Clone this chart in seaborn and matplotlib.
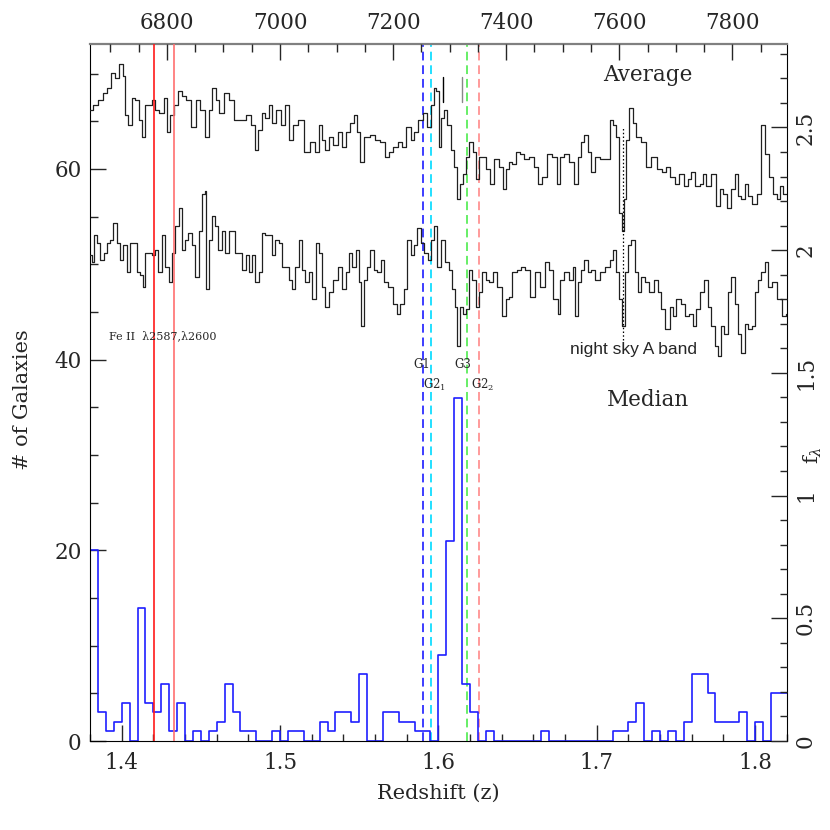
import numpy as np
import pandas as pd
import matplotlib
matplotlib.use("Agg")
import matplotlib.pyplot as plt
import seaborn as sns
from matplotlib.ticker import MultipleLocator

sns.set_style("ticks")
plt.rcParams["font.family"] = ["DejaVu Serif"]
plt.rcParams["mathtext.fontset"] = "dejavuserif"

# ---------------- data ----------------
z_start = 1.380
z_bin = 0.005
counts = [20, 3, 1, 2, 4, 0, 14, 4, 3, 6,
          1, 4, 0, 1, 0, 1, 2, 6, 3, 1,
          1, 0, 0, 1, 0, 1, 1, 0, 0, 2,
          1, 3, 3, 2, 7, 0, 0, 3, 3, 2,
          2, 1, 1, 0, 9, 21, 36, 6, 3, 0,
          1, 0, 0, 0, 0, 0, 0, 1, 0, 0,
          0, 0, 0, 0, 0, 0, 1, 1, 2, 4,
          0, 1, 0, 1, 0, 2, 7, 7, 5, 2,
          2, 2, 3, 0, 2, 0, 5, 5]

avg_wave = [6664, 6673, 6682, 6691, 6696, 6705, 6711, 6720, 6723, 6729, 6734, 6741, 6747, 6753, 6759, 6764,
            6770, 6776, 6782, 6791, 6797, 6803, 6809, 6815, 6823, 6829, 6838, 6847, 6856, 6862, 6871, 6877,
            6884, 6888, 6897, 6906, 6915, 6924, 6936, 6945, 6953, 6958, 6965, 6971, 6977, 6983, 6989, 6998,
            7004, 7013, 7018, 7027, 7036, 7048, 7057, 7066, 7072, 7077, 7083, 7089, 7098, 7107,
            7113, 7119, 7128, 7134, 7139, 7145, 7151, 7157, 7163, 7172, 7181, 7190, 7196, 7204, 7213, 7219,
            7228, 7234, 7240, 7249, 7255, 7264, 7269, 7274, 7278, 7283, 7287, 7293, 7299, 7305, 7311, 7315,
            7321, 7327, 7331, 7339, 7343, 7349, 7355, 7361, 7367, 7374, 7382, 7391, 7396, 7402, 7408, 7414,
            7420, 7429, 7435, 7444, 7453, 7461, 7467, 7476, 7485, 7494,
            7497, 7506, 7515, 7524, 7529, 7535, 7541, 7547, 7553, 7562, 7571, 7580, 7586, 7592, 7597, 7603,
            7606, 7609, 7615, 7621, 7627, 7633, 7642, 7651, 7662, 7671, 7680, 7686, 7695, 7701, 7710, 7719,
            7724, 7730, 7739, 7745, 7751, 7757, 7766, 7775, 7781, 7786, 7795, 7801, 7807, 7813, 7819, 7825,
            7831, 7840, 7848, 7854, 7860, 7869, 7875, 7881, 7887, 7893, 7902]
avg_flux = [2.57, 2.59, 2.61, 2.64, 2.66, 2.72, 2.70, 2.76, 2.71, 2.55, 2.51, 2.62, 2.61, 2.53, 2.46, 2.59,
            2.59, 2.61, 2.57, 2.56, 2.62, 2.48, 2.55, 2.59, 2.65, 2.63, 2.61, 2.50, 2.61, 2.57, 2.46, 2.57,
            2.66, 2.61, 2.56, 2.64, 2.61, 2.53, 2.53, 2.55, 2.51, 2.41, 2.49, 2.56, 2.54, 2.59, 2.52, 2.57,
            2.51, 2.59, 2.45, 2.51, 2.53, 2.40, 2.44, 2.40, 2.51, 2.45, 2.41, 2.46, 2.43, 2.48,
            2.42, 2.48, 2.52, 2.55, 2.48, 2.36, 2.46, 2.46, 2.47, 2.45, 2.44, 2.38, 2.40, 2.42, 2.44, 2.42,
            2.50, 2.45, 2.48, 2.53, 2.56, 2.50, 2.59, 2.66, 2.65, 2.42, 2.54, 2.57, 2.51, 2.41, 2.34, 2.21,
            2.27, 2.31, 2.38, 2.44, 2.40, 2.29, 2.38, 2.38, 2.33, 2.27, 2.37, 2.34, 2.25, 2.33, 2.36, 2.35,
            2.40, 2.39, 2.37, 2.38, 2.34, 2.27, 2.30, 2.39, 2.38, 2.27,
            2.38, 2.39, 2.36, 2.27, 2.38, 2.44, 2.47, 2.40, 2.32, 2.38, 2.37, 2.37, 2.53, 2.51, 2.46, 2.15,
            2.08, 2.21, 2.45, 2.58, 2.52, 2.46, 2.44, 2.34, 2.38, 2.33, 2.32, 2.34, 2.30, 2.27, 2.31, 2.26,
            2.29, 2.32, 2.26, 2.27, 2.31, 2.26, 2.31, 2.18, 2.25, 2.23, 2.17, 2.25, 2.31, 2.22, 2.21, 2.27,
            2.22, 2.19, 2.23, 2.51, 2.39, 2.30, 2.23, 2.21, 2.26, 2.23, 2.25]

med_wave = [6664, 6670, 6673, 6679, 6685, 6691, 6696, 6702, 6708, 6714, 6720, 6726, 6732, 6738, 6744, 6750,
            6756, 6760, 6764, 6770, 6776, 6782, 6788, 6794, 6800, 6806, 6812, 6818, 6823, 6829, 6835, 6841,
            6847, 6853, 6859, 6865, 6868, 6872, 6877, 6883, 6888, 6894, 6900, 6906, 6912, 6918, 6924, 6930,
            6936, 6942, 6948, 6953, 6959, 6965, 6971, 6977, 6983, 6989, 6995, 7001, 7007, 7013, 7018, 7024,
            7030, 7036, 7042, 7048, 7054, 7060, 7066, 7072, 7077, 7083, 7089, 7098, 7107,
            7113, 7119, 7125, 7131, 7137, 7142, 7145, 7151, 7157, 7163, 7169, 7175, 7181, 7187, 7196, 7204,
            7210, 7216, 7222, 7228, 7234, 7240, 7246, 7252, 7258, 7264, 7269, 7275, 7281, 7287, 7296, 7302,
            7308, 7311, 7315, 7320, 7326, 7331, 7337, 7343, 7349, 7355, 7361, 7367, 7373, 7379, 7388, 7396,
            7402, 7408, 7414, 7423, 7429, 7438, 7447, 7456, 7464, 7473, 7479, 7488, 7494,
            7497, 7506, 7515, 7521, 7524, 7529, 7535, 7541, 7547, 7553, 7562, 7571, 7580, 7586, 7592, 7597,
            7603, 7607, 7612, 7618, 7624, 7630, 7636, 7642, 7648, 7656, 7665, 7671, 7677, 7686, 7692, 7698,
            7704, 7713, 7719, 7727, 7733, 7739, 7745, 7754, 7760, 7766, 7772, 7778, 7783, 7789, 7795, 7801,
            7807, 7813, 7819, 7825, 7831, 7837, 7843, 7848, 7854, 7860, 7866, 7875, 7884, 7890, 7899]
med_flux = [1.98, 1.95, 2.06, 2.03, 1.96, 1.99, 2.03, 2.04, 2.11, 2.03, 1.96, 2.02, 1.91, 2.03, 2.03, 1.91,
            1.90, 1.85, 1.99, 1.99, 1.98, 2.00, 1.91, 2.06, 1.93, 1.87, 1.99, 2.10, 2.17, 2.00, 2.04, 2.07,
            2.02, 1.89, 2.08, 2.23, 2.24, 1.84, 2.04, 2.14, 2.10, 2.00, 2.08, 1.99, 2.08, 2.08, 1.99, 1.99,
            1.92, 1.98, 1.91, 1.98, 1.87, 1.91, 2.07, 2.06, 2.06, 1.98, 2.04, 2.03, 1.93, 1.93, 1.88, 1.84,
            1.93, 2.04, 1.92, 1.87, 1.91, 1.80, 2.03, 1.99, 1.85, 1.77, 1.83, 1.88, 1.93,
            1.84, 1.91, 1.99, 1.93, 2.00, 1.87, 1.69, 1.88, 1.93, 2.00, 1.92, 1.91, 1.96, 1.87, 1.85, 1.78,
            1.74, 1.78, 1.84, 2.04, 1.98, 2.02, 2.09, 2.03, 1.99, 1.96, 2.04, 2.10, 1.93, 2.04, 1.95, 1.92,
            1.84, 1.77, 1.61, 1.77, 1.74, 1.76, 1.92, 1.88, 1.77, 1.83, 1.91, 1.88, 1.87, 1.91, 1.85, 1.73,
            1.80, 1.81, 1.91, 1.92, 1.93, 1.92, 1.81, 1.91, 1.85, 1.95, 1.92, 1.80, 1.74,
            1.88, 1.91, 1.88, 1.93, 1.73, 1.87, 1.92, 1.96, 1.91, 1.92, 1.88, 1.91, 1.93, 1.96, 2.00, 1.91,
            1.80, 1.69, 1.91, 2.02, 2.04, 1.91, 1.83, 1.89, 1.87, 1.83, 1.88, 1.83, 1.76, 1.68, 1.77, 1.73,
            1.80, 1.78, 1.73, 1.74, 1.69, 1.76, 1.83, 1.88, 1.77, 1.69, 1.61, 1.57, 1.69, 1.66, 1.83, 1.89,
            1.78, 1.66, 1.58, 1.70, 1.68, 1.69, 1.83, 1.88, 1.91, 1.95, 1.85, 1.87, 1.80, 1.73, 1.74]

feii_wave = [6778, 6812]            # Fe II 2587, 2600 at z=1.62 (observed)
group_z = [1.5906, 1.5953, 1.6184, 1.6256]
group_colors = ["#3c3cff", "#22e0ff", "#66ee66", "#ff9a9a"]
aband_wave = 7607
mark_wave = [7288, 7321]

z_lim = (1.38, 1.82)
n_lim = (0, 73.1)
wave_lim = (2800 * (1 + z_lim[0]), 2800 * (1 + z_lim[1]))
f_lim = (0, 2.84)

# ---------------- figure ----------------
W = 830.0
fig = plt.figure(figsize=(8.3, 8.3), dpi=100)
rect = [90 / W, 89 / W, 696.7 / W, 697 / W]
ax = fig.add_axes(rect)
ax2 = fig.add_axes(rect, frameon=False)
ax2.patch.set_visible(False)

z_edges = z_start + z_bin * np.arange(len(counts) + 1)
hist_df = pd.DataFrame({"z": 0.5 * (z_edges[:-1] + z_edges[1:]), "n": counts})
sns.histplot(data=hist_df, x="z", weights="n", binwidth=z_bin,
             binrange=(z_start, z_start + z_bin * len(counts)),
             element="step", fill=False, color="#1f1fff", linewidth=1.2, ax=ax)

for zg, c in zip(group_z, group_colors):
    ax.axvline(zg, color=c, lw=1.4, dashes=(4.5, 2.5), zorder=1)

ax.set_xlim(*z_lim)
ax.set_ylim(*n_lim)
ax.set_xlabel("Redshift (z)", fontsize=15)
ax.set_ylabel("# of Galaxies", fontsize=15)
ax.xaxis.set_label_coords(0.5, -0.062)
ax.yaxis.set_label_coords(-0.083, 0.49)
ax.xaxis.set_major_locator(MultipleLocator(0.1))
ax.xaxis.set_minor_locator(MultipleLocator(0.02))
ax.set_yticks([0, 20, 40, 60])
ax.yaxis.set_minor_locator(MultipleLocator(5))
ax.tick_params(which="both", direction="in", top=False, right=False, labelsize=15.5, width=1)
ax.tick_params(which="major", length=11.5)
ax.tick_params(which="minor", length=5.4)
ax.tick_params(axis="x", pad=8)
ax.tick_params(axis="y", pad=6)
ax.spines["top"].set_color("#808080")
for s in ["left", "bottom", "right"]:
    ax.spines[s].set_color("black")
ax.spines["top"].set_linewidth(1.6)

# spectra
sns.lineplot(x=avg_wave, y=avg_flux, estimator=None, sort=False, drawstyle="steps-mid",
             color="#202020", linewidth=0.9, ax=ax2)
sns.lineplot(x=med_wave, y=med_flux, estimator=None, sort=False, drawstyle="steps-mid",
             color="#202020", linewidth=0.9, ax=ax2)
for w, c in zip(feii_wave, ["#ff1a1a", "#ff7070"]):
    ax2.axvline(w, color=c, lw=1.2, zorder=3)
ax2.plot([aband_wave, aband_wave], [1.635, 2.50], color="black", lw=0.9, ls=(0, (1.2, 1.8)))
ax2.plot([mark_wave[0]] * 2, [2.605, 2.707], color="black", lw=1.0)
ax2.plot([mark_wave[1]] * 2, [2.605, 2.707], color="#888888", lw=1.0)

ax2.set_xlim(*wave_lim)
ax2.set_ylim(*f_lim)
ax2.xaxis.tick_top()
ax2.yaxis.tick_right()
ax2.xaxis.set_major_locator(MultipleLocator(200))
ax2.xaxis.set_minor_locator(MultipleLocator(50))
ax2.yaxis.set_major_locator(MultipleLocator(0.5))
ax2.yaxis.set_minor_locator(MultipleLocator(0.1))
ax2.tick_params(which="both", direction="in", labelsize=15.5, width=1,
                top=True, right=True, bottom=False, left=False)
ax2.tick_params(which="major", length=11.5)
ax2.tick_params(which="minor", length=5.4)
ax2.tick_params(axis="x", pad=7)
ax2.tick_params(axis="y", pad=6, labelrotation=90)
ax2.yaxis.set_major_formatter(matplotlib.ticker.FuncFormatter(lambda v, p: f"{v:g}"))
for lab in ax2.get_yticklabels():
    lab.set_va("center")
ax2.set_xlabel("")
ax2.set_ylabel("f$_\\lambda$", fontsize=15)
ax2.yaxis.set_label_position("right")
ax2.yaxis.set_label_coords(1.022, 0.41)

# texts
ax2.text(7651, 2.715, "Average", fontsize=15.5, ha="center", va="center")
ax2.text(7651, 1.39, "Median", fontsize=15.5, ha="center", va="center")
ax2.text(7625, 1.594, "night sky A band", fontsize=12.5, ha="center", va="center",
         family=["Liberation Sans", "DejaVu Sans"])
ax2.text(6697, 1.651, "Fe II  λ2587,λ2600", fontsize=8, ha="left", va="center")
ax2.text(7251.5, 1.533, "G1", fontsize=8.5, ha="center", va="center")
ax2.text(7324, 1.533, "G3", fontsize=8.5, ha="center", va="center")
ax2.text(7273.6, 1.451, "G2$_1$", fontsize=8.5, ha="center", va="center")
ax2.text(7358, 1.451, "G2$_2$", fontsize=8.5, ha="center", va="center")

fig.savefig("out.png", dpi=100)
